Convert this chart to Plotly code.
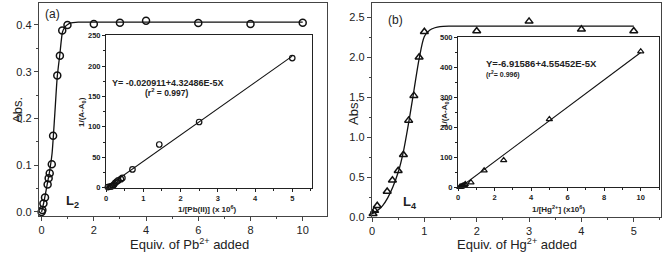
import plotly.graph_objects as go

W, H = 663, 254

# ---------------- data (a) Pb2+ ----------------
pb_equiv = [0.0, 0.03, 0.07, 0.13, 0.23, 0.27, 0.31, 0.39, 0.44, 0.6, 0.7, 0.79, 0.99, 2.0, 3.0, 4.0, 6.0, 8.0, 10.0]
pb_abs = [0.0, 0.004, 0.018, 0.031, 0.059, 0.072, 0.083, 0.102, 0.163, 0.292, 0.334, 0.388, 0.400, 0.402, 0.405, 0.409, 0.404, 0.402, 0.405]
pb_fit_x = [0.0, 0.1, 0.2, 0.3, 0.4, 0.5, 0.6, 0.7, 0.8, 0.9, 1.0, 1.1, 1.2, 1.4, 2.0, 4.0, 6.0, 8.0, 10.0]
pb_fit_y = [0.0, 0.025, 0.055, 0.085, 0.125, 0.205, 0.29, 0.338, 0.385, 0.396, 0.401, 0.404, 0.405, 0.406, 0.406, 0.406, 0.406, 0.406, 0.406]
pb_inv_x = [0.05, 0.1, 0.14, 0.17, 0.2, 0.22, 0.25, 0.29, 0.33, 0.4, 0.44, 0.71, 1.43, 2.5, 5.0]
pb_inv_y = [1, 2, 2, 3, 4, 5.5, 8, 10, 12, 14, 16, 30, 71, 108, 213]
pb_line_x = [0.0, 5.0]
pb_line_y = [0.0, 216.2]

# ---------------- data (b) Hg2+ ----------------
hg_equiv = [0.02, 0.05, 0.1, 0.29, 0.39, 0.5, 0.6, 0.7, 0.8, 0.9, 1.0, 2.0, 3.0, 4.0, 5.0]
hg_abs = [0.04, 0.08, 0.14, 0.32, 0.46, 0.58, 0.78, 1.21, 1.52, 2.0, 2.32, 2.33, 2.45, 2.35, 2.33]
hg_fit_x = [0.0, 0.1, 0.2, 0.3, 0.4, 0.5, 0.6, 0.7, 0.8, 0.9, 1.0, 1.1, 1.2, 1.3, 1.5, 2.0, 3.0, 4.0, 5.0]
hg_fit_y = [0.04, 0.08, 0.14, 0.24, 0.38, 0.56, 0.82, 1.18, 1.58, 1.98, 2.26, 2.34, 2.37, 2.385, 2.39, 2.39, 2.39, 2.39, 2.39]
hg_inv_x = [0.1, 0.15, 0.2, 0.25, 0.3, 0.35, 0.4, 0.71, 1.43, 2.5, 5.0, 10.0]
hg_inv_y = [0, 1, 2, 3, 4, 6, 9, 15, 55, 89, 226, 452]
hg_line_x = [0.15, 10.0]
hg_line_y = [0.0, 448.5]

FONT = "Arial, Liberation Sans, sans-serif"
TXT = "#222222"
FRAME = "#444444"


def px(x):
    return x / W


def py(y):
    return 1 - y / H


fig = go.Figure()

mk_main = dict(color="#111111", size=7, line=dict(color="#111111", width=1.5))
mk_in = dict(color="#111111", size=5.5, line=dict(color="#111111", width=1.2))

# (a) main
fig.add_trace(go.Scatter(x=pb_fit_x, y=pb_fit_y, mode="lines", line=dict(color="#111111", width=1.3, shape="spline", smoothing=0.6),
                         xaxis="x", yaxis="y", cliponaxis=False, showlegend=False))
fig.add_trace(go.Scatter(x=pb_equiv, y=pb_abs, mode="markers", marker=dict(symbol="circle-open", **mk_main),
                         xaxis="x", yaxis="y", cliponaxis=False, showlegend=False))
# (a) inset
fig.add_trace(go.Scatter(x=pb_line_x, y=pb_line_y, mode="lines", line=dict(color="#111111", width=1.1),
                         xaxis="x2", yaxis="y2", cliponaxis=False, showlegend=False))
fig.add_trace(go.Scatter(x=pb_inv_x, y=pb_inv_y, mode="markers", marker=dict(symbol="circle-open", **mk_in),
                         xaxis="x2", yaxis="y2", cliponaxis=False, showlegend=False))
# (b) main
fig.add_trace(go.Scatter(x=hg_fit_x, y=hg_fit_y, mode="lines", line=dict(color="#111111", width=1.3, shape="spline", smoothing=0.8),
                         xaxis="x3", yaxis="y3", cliponaxis=False, showlegend=False))
fig.add_trace(go.Scatter(x=hg_equiv, y=hg_abs, mode="markers", marker=dict(symbol="triangle-up-open", **mk_main),
                         xaxis="x3", yaxis="y3", cliponaxis=False, showlegend=False))
# (b) inset
fig.add_trace(go.Scatter(x=hg_line_x, y=hg_line_y, mode="lines", line=dict(color="#111111", width=1.1),
                         xaxis="x4", yaxis="y4", cliponaxis=False, showlegend=False))
fig.add_trace(go.Scatter(x=hg_inv_x, y=hg_inv_y, mode="markers", marker=dict(symbol="triangle-up-open", **mk_in),
                         xaxis="x4", yaxis="y4", cliponaxis=False, showlegend=False))


def main_axis(domain, rng, dtick, minor, anchor):
    return dict(domain=domain, range=rng, dtick=dtick, tick0=0, showgrid=False, zeroline=False,
                automargin=False,
                showline=True, linecolor=FRAME, linewidth=1.3, mirror=True,
                ticks="outside", ticklen=4, tickwidth=1, tickcolor=FRAME,
                minor=dict(dtick=minor, ticks="outside", ticklen=2, tickcolor=FRAME, showgrid=False),
                tickfont=dict(family=FONT, size=11, color=TXT), anchor=anchor)


def inset_axis(domain, rng, dtick, minor, anchor):
    return dict(domain=domain, range=rng, dtick=dtick, tick0=0, showgrid=False, zeroline=False,
                automargin=False,
                showline=True, linecolor="#222222", linewidth=1, mirror=True,
                ticks="outside", ticklen=3, tickwidth=1, tickcolor="#222222",
                minor=dict(dtick=minor, ticks="outside", ticklen=2, tickcolor="#222222", showgrid=False),
                tickfont=dict(family=FONT, size=7.5, color=TXT, weight="bold"), anchor=anchor)


fig.update_layout(
    width=W, height=H, margin=dict(l=0, r=0, t=0, b=0, pad=0, autoexpand=False),
    paper_bgcolor="white", plot_bgcolor="white",
    xaxis=main_axis([px(39), px(327)], [-0.1, 10.93], 2, 1, "y"),
    yaxis=main_axis([py(216), py(3)], [-0.0086, 0.447], 0.1, 0.05, "x") | dict(tickformat=".1f"),
    xaxis2=inset_axis([px(106), px(312)], [0, 5.53], 1, 0.5, "y2"),
    yaxis2=inset_axis([py(188), py(35)], [-0.5, 251], 50, 25, "x2"),
    xaxis3=main_axis([px(372), px(661)], [0, 5.52], 1, 0.5, "y3"),
    yaxis3=main_axis([py(217), py(3)], [0, 2.68], 0.5, 0.25, "x3") | dict(tickformat=".1f"),
    xaxis4=inset_axis([px(458), px(659)], [0, 11], 2, 1, "y4"),
    yaxis4=inset_axis([py(187), py(37)], [0, 500], 100, 50, "x4"),
)


def ann(x, y, text, size, bold=False, angle=0, xanchor="center"):
    fig.add_annotation(x=px(x), y=py(y), xref="paper", yref="paper", text=text, showarrow=False,
                       xanchor=xanchor, yanchor="middle", textangle=angle, borderpad=0,
                       font=dict(family=FONT, size=size, color=TXT, weight="bold" if bold else "normal"))


# (a) labels
ann(189, 244, "Equiv. of Pb<sup>2+</sup> added", 13)
ann(17, 110, "Abs.", 13, angle=-90)
ann(53, 14, "(a)", 12)
ann(72, 201, "L<sub>2</sub>", 13, bold=True)
ann(82, 112, "1/(A-A<sub>0</sub>)", 8, bold=True, angle=-90)
ann(207, 209, "1/[Pb(II)] (x 10<sup>6</sup>)", 8, bold=True)
ann(111, 83, "Y= -0.020911+4.32486E-5X", 9, bold=True, xanchor="left")
ann(166, 92, "(r<sup>2</sup> = 0.997)", 8.5, bold=True)

# (b) labels
ann(517, 244, "Equiv. of Hg<sup>2+</sup> added", 13)
ann(353, 112, "Abs.", 13, angle=-90)
ann(395, 20, "(b)", 12)
ann(410, 202, "L<sub>4</sub>", 13, bold=True)
ann(445, 113, "1/(A-A<sub>0</sub>)", 8, bold=True, angle=-90)
ann(558, 209, "1/[Hg<sup>2+</sup>] (x10<sup>6</sup>)", 8, bold=True)
ann(485, 63, "Y=-6.91586+4.55452E-5X", 9.5, bold=True, xanchor="left")
ann(485, 75, "(r<sup>2</sup>= 0.996)", 7, bold=True, xanchor="left")

fig.write_html("out.html", config={"displayModeBar": False},
               post_script="document.body.style.margin='0';document.body.style.padding='0';")
